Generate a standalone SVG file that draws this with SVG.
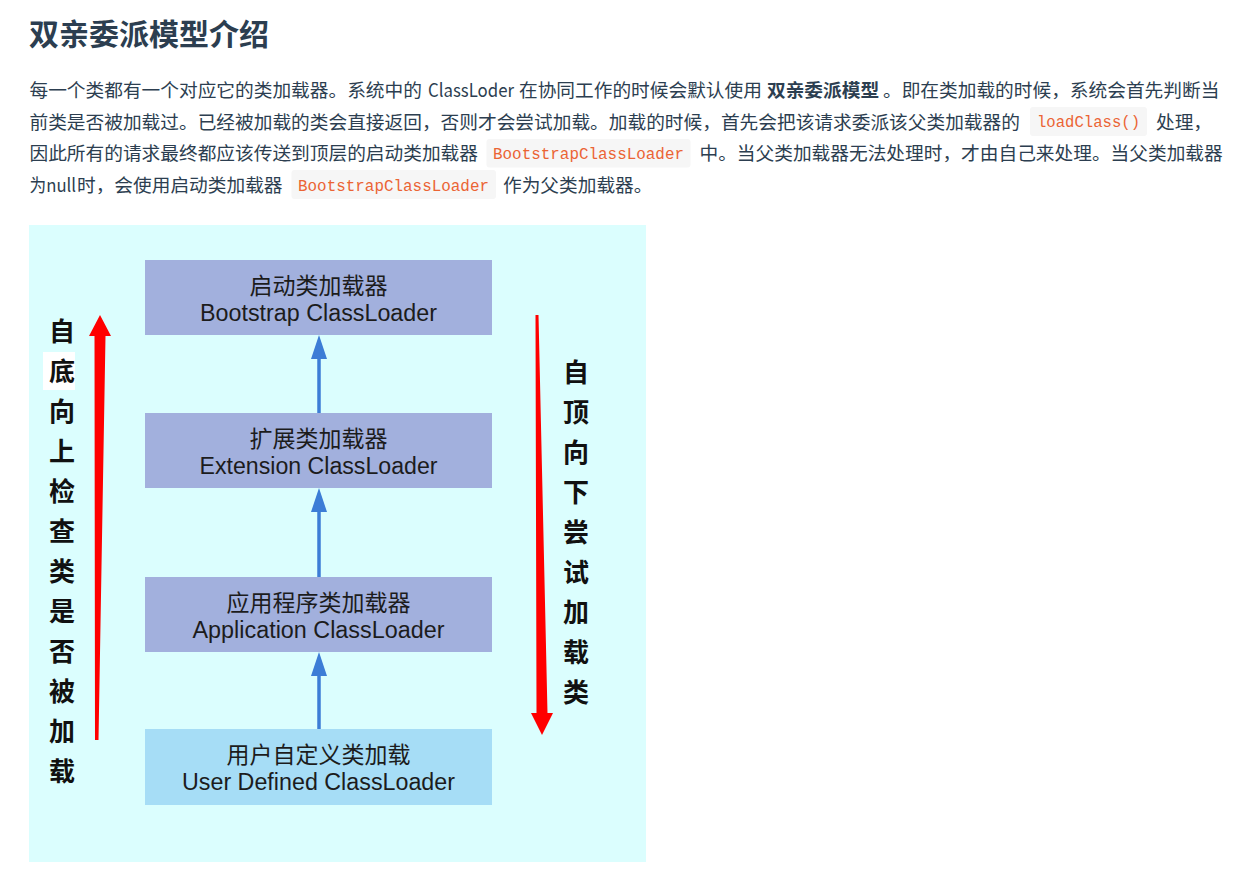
<svg xmlns="http://www.w3.org/2000/svg" width="1257" height="871" viewBox="0 0 1257 871">
  <style>
    .title { font-family: "Noto Sans CJK SC", "Noto Sans", sans-serif; font-size: 30px; font-weight: 700; fill: #2c3e50; }
    .p { font-family: "Noto Sans CJK SC", "Noto Sans", sans-serif; font-size: 18.7px; fill: #2c3e50; }
    .b { font-weight: 700; }
    .codebg { fill: #f6f6f6; }
    .code { font-family: "Liberation Mono", "DejaVu Sans Mono", monospace; font-size: 15.6px; fill: #eb6434; }
    .box { fill: #a2b0dd; }
    .box2 { fill: #a6ddf6; }
    .cn { font-family: "Noto Sans CJK SC", "Noto Sans", sans-serif; font-size: 23px; fill: #1c1c1c; text-anchor: middle; }
    .en { font-family: "Liberation Sans", Arial, sans-serif; font-size: 23px; fill: #1c1c1c; text-anchor: middle; }
    .vt { font-family: "Noto Sans CJK SC", serif; font-size: 26px; font-weight: 700; fill: #111; text-anchor: middle; }
    .blue { stroke: #3c7dd6; stroke-width: 3.5; fill: none; }
    .bluehead { fill: #3c7dd6; }
    .red { fill: #ff0000; }
  </style>

  <rect x="0" y="0" width="1257" height="871" fill="#ffffff"/>

  <g id="header">
    <text class="title" x="29" y="45">双亲委派模型介绍</text>
    <text class="p" x="29.5" y="96.5">每一个类都有一个对应它的类加载器。系统中的</text>
    <text class="p" x="428" y="96.5" textLength="86" lengthAdjust="spacingAndGlyphs">ClassLoder</text>
    <text class="p" x="519" y="96.5">在协同工作的时候会默认使用</text>
    <text class="p b" x="767" y="96.5">双亲委派模型</text>
    <text class="p" x="883" y="96.5">。即在类加载的时候，系统会首先判断当</text>

    <text class="p" x="29.5" y="128.5">前类是否被加载过。已经被加载的类会直接返回，否则才会尝试加载。加载的时候，首先会把该请求委派该父类加载器的</text>
    <rect class="codebg" x="1030" y="107" width="117" height="29" rx="3"/>
    <text class="code" x="1037" y="127" textLength="103" lengthAdjust="spacingAndGlyphs">loadClass()</text>
    <text class="p" x="1156" y="128.5">处理，</text>

    <text class="p" x="29.5" y="160">因此所有的请求最终都应该传送到顶层的启动类加载器</text>
    <rect class="codebg" x="486.5" y="139" width="204" height="28.5" rx="3"/>
    <text class="code" x="493" y="159" textLength="191" lengthAdjust="spacingAndGlyphs">BootstrapClassLoader</text>
    <text class="p" x="699.5" y="160">中。当父类加载器无法处理时，才由自己来处理。当父类加载器</text>

    <text class="p" x="29.5" y="191.5" textLength="46.5" lengthAdjust="spacingAndGlyphs">为null</text>
    <text class="p" x="77" y="191.5">时，会使用启动类加载器</text>
    <rect class="codebg" x="291.5" y="170" width="204.5" height="29" rx="3"/>
    <text class="code" x="298" y="190.5" textLength="191" lengthAdjust="spacingAndGlyphs">BootstrapClassLoader</text>
    <text class="p" x="503" y="191.5">作为父类加载器。</text>
  </g>

  <g id="diagram-bg">
    <rect x="29" y="225" width="617" height="637" fill="#dbfefe"/>
  </g>

  <g id="connectors">
    <line class="blue" x1="319" y1="413" x2="319" y2="357"/>
    <polygon class="bluehead" points="319,335 311,359 327,359"/>
    <line class="blue" x1="319" y1="577" x2="319" y2="510"/>
    <polygon class="bluehead" points="319,488 311,512 327,512"/>
    <line class="blue" x1="319" y1="729" x2="319" y2="674"/>
    <polygon class="bluehead" points="319,652 311,676 327,676"/>
  </g>

  <g id="node-bootstrap">
    <rect class="box" x="145" y="260" width="347" height="75"/>
    <text class="cn" x="318.5" y="294">启动类加载器</text>
    <text class="en" x="318.5" y="321" textLength="237" lengthAdjust="spacingAndGlyphs">Bootstrap ClassLoader</text>
  </g>

  <g id="node-extension">
    <rect class="box" x="145" y="413" width="347" height="75"/>
    <text class="cn" x="318.5" y="447">扩展类加载器</text>
    <text class="en" x="318.5" y="474" textLength="238" lengthAdjust="spacingAndGlyphs">Extension ClassLoader</text>
  </g>

  <g id="node-application">
    <rect class="box" x="145" y="577" width="347" height="75"/>
    <text class="cn" x="318.5" y="611">应用程序类加载器</text>
    <text class="en" x="318.5" y="638" textLength="252" lengthAdjust="spacingAndGlyphs">Application ClassLoader</text>
  </g>

  <g id="node-user">
    <rect class="box2" x="145" y="729" width="347" height="76"/>
    <text class="cn" x="318.5" y="763">用户自定义类加载</text>
    <text class="en" x="318.5" y="790" textLength="273" lengthAdjust="spacingAndGlyphs">User Defined ClassLoader</text>
  </g>

  <g id="left-arrow">
    <polygon class="red" points="100,315 111,336 105.5,336 98.5,740 95,740 94.5,336 89,336"/>
    <rect x="43" y="352" width="32" height="38" fill="#ffffff"/>
    <text class="vt" x="62" y="341">自</text>
    <text class="vt" x="62" y="381">底</text>
    <text class="vt" x="62" y="421">向</text>
    <text class="vt" x="62" y="461">上</text>
    <text class="vt" x="62" y="501">检</text>
    <text class="vt" x="62" y="541">查</text>
    <text class="vt" x="62" y="581">类</text>
    <text class="vt" x="62" y="621">是</text>
    <text class="vt" x="62" y="661">否</text>
    <text class="vt" x="62" y="701">被</text>
    <text class="vt" x="62" y="741">加</text>
    <text class="vt" x="62" y="781">载</text>
  </g>

  <g id="right-arrow">
    <polygon class="red" points="535.5,315 538.5,315 547.5,713 553,713 542,735 531,713 536.5,713"/>
    <text class="vt" x="576" y="382">自</text>
    <text class="vt" x="576" y="422">顶</text>
    <text class="vt" x="576" y="462">向</text>
    <text class="vt" x="576" y="502">下</text>
    <text class="vt" x="576" y="542">尝</text>
    <text class="vt" x="576" y="582">试</text>
    <text class="vt" x="576" y="622">加</text>
    <text class="vt" x="576" y="662">载</text>
    <text class="vt" x="576" y="702">类</text>
  </g>
</svg>
